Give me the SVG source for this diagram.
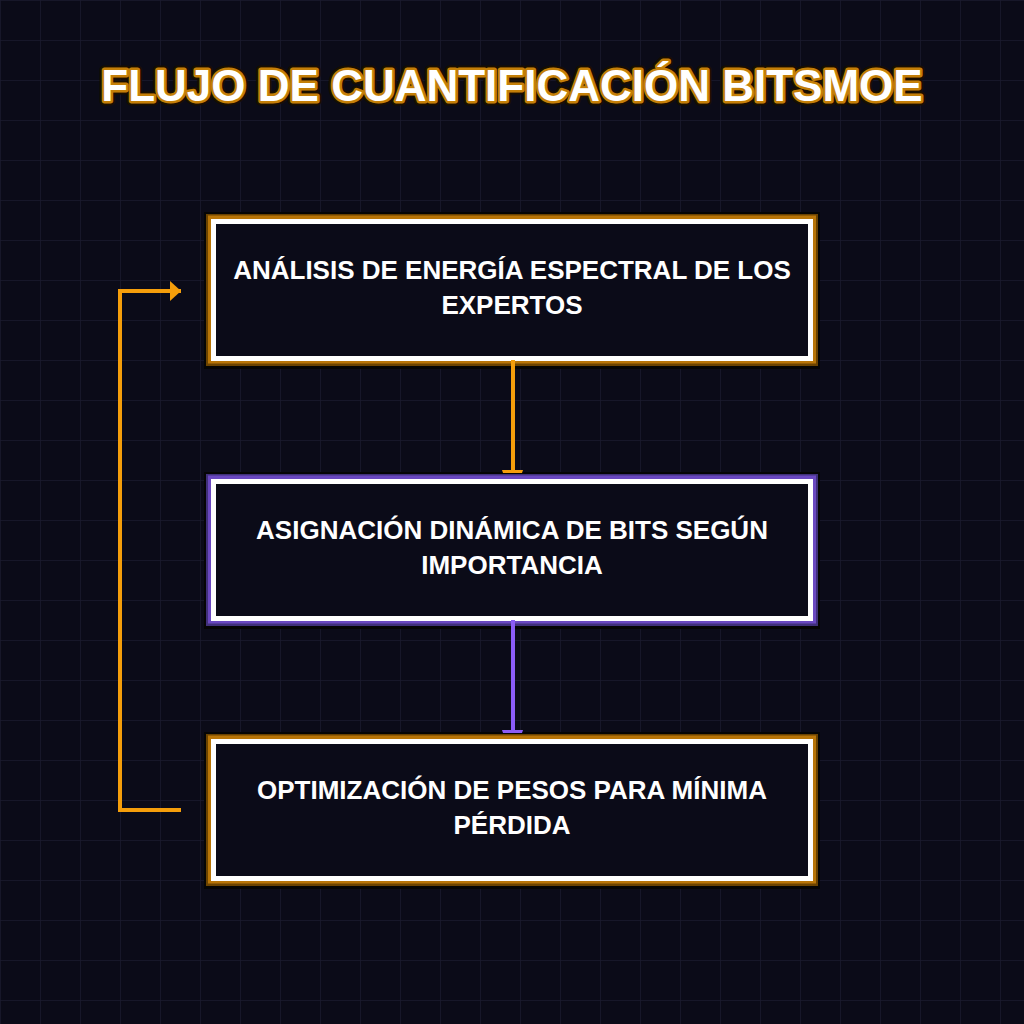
<svg xmlns="http://www.w3.org/2000/svg" width="1024" height="1024" viewBox="0 0 1024 1024">
<style>
.title{font-family:"Liberation Sans",Arial,sans-serif;font-weight:bold;font-size:44px;text-anchor:middle}
.lbl{font-family:"Liberation Sans",Arial,sans-serif;font-weight:bold;font-size:26px;fill:#ffffff;text-anchor:middle}
.inner{fill:#0b0b18;stroke:#ffffff;stroke-width:5}
</style>
<defs>
<pattern id="grid" width="40" height="40" patternUnits="userSpaceOnUse">
<path d="M40 0 H0 V40" fill="none" stroke="#1a1a2e" stroke-width="1.5"/>
</pattern>
<marker id="arrO" markerWidth="12" markerHeight="22" refX="11" refY="11" orient="auto" markerUnits="userSpaceOnUse">
<path d="M0 1 L11 11 L0 21 Z" fill="#f59e0b"/>
</marker>
</defs>
<rect width="1024" height="1024" fill="#0b0b18"/>
<rect width="1024" height="1024" fill="url(#grid)"/>
<g id="title">
<text class="title" x="512" y="101" fill="none" stroke="#1a0f00" stroke-width="9" stroke-linejoin="round">FLUJO DE CUANTIFICACIÓN BITSMOE</text>
<text class="title" x="512" y="101" fill="none" stroke="#c47f08" stroke-width="5" stroke-linejoin="round">FLUJO DE CUANTIFICACIÓN BITSMOE</text>
<text class="title" x="512" y="101" fill="#ffffff">FLUJO DE CUANTIFICACIÓN BITSMOE</text>
</g>
<g id="node1">
<rect x="204" y="212" width="616" height="157" fill="#050505"/>
<rect x="206" y="214" width="612" height="152" fill="#6b4300"/>
<rect x="208" y="215.5" width="608" height="148" fill="#b87508"/>
<rect class="inner" x="213.5" y="221.5" width="597" height="137"/>
<text class="lbl" x="512" y="279">ANÁLISIS DE ENERGÍA ESPECTRAL DE LOS</text>
<text class="lbl" x="512" y="314">EXPERTOS</text>
</g>
<g id="node2">
<rect x="204" y="472" width="616" height="157" fill="#050505"/>
<rect x="206" y="474" width="612" height="152" fill="#40307a"/>
<rect x="208" y="475.5" width="608" height="148" fill="#6a48c0"/>
<rect class="inner" x="213.5" y="481.5" width="597" height="137"/>
<text class="lbl" x="512" y="539">ASIGNACIÓN DINÁMICA DE BITS SEGÚN</text>
<text class="lbl" x="512" y="574">IMPORTANCIA</text>
</g>
<g id="node3">
<rect x="204" y="732" width="616" height="157" fill="#050505"/>
<rect x="206" y="734" width="612" height="152" fill="#6b4300"/>
<rect x="208" y="735.5" width="608" height="148" fill="#b87508"/>
<rect class="inner" x="213.5" y="741.5" width="597" height="137"/>
<text class="lbl" x="512" y="799">OPTIMIZACIÓN DE PESOS PARA MÍNIMA</text>
<text class="lbl" x="512" y="834">PÉRDIDA</text>
</g>
<g id="connectors">
<line x1="513" y1="360" x2="513" y2="471" stroke="#f59e0b" stroke-width="4"/>
<polygon points="502,470 523,470 522,473 503,473" fill="#f59e0b"/>
<line x1="513" y1="620" x2="513" y2="731" stroke="#8b5cf6" stroke-width="4"/>
<polygon points="502,730 523,730 522,733 503,733" fill="#8b5cf6"/>
<path d="M181 810 H120 V291 H181" fill="none" stroke="#f59e0b" stroke-width="4" marker-end="url(#arrO)"/>
</g>
</svg>
